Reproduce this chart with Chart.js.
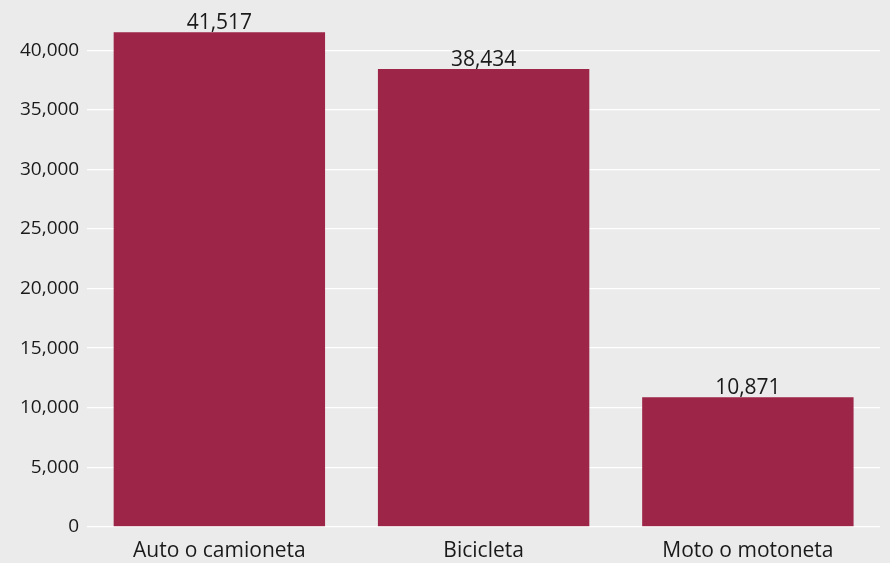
<!DOCTYPE html>
<html lang="es">
<head>
  <meta charset="UTF-8">
  <title>Vehículos</title>
  <script src="https://cdn.jsdelivr.net/npm/chart.js"></script>
  <style>
    body {
      margin: 0;
      padding: 0;
      background-color: #ebebeb;
      font-family: "Open Sans", sans-serif;
    }
    #wrap {
      width: 890px;
      height: 563px;
    }
  </style>
</head>
<body>
  <div id="wrap"><canvas id="grafico"></canvas></div>

  <script>
    const categorias = ['Auto o camioneta', 'Bicicleta', 'Moto o motoneta'];
    const valores = [41517, 38434, 10871];
    const marcasY = [0, 5000, 10000, 15000, 20000, 25000, 30000, 35000, 40000];
    const yMax = 42600;

    const fmt = n => n.toLocaleString('en-US');

    // etiquetas de valor encima de cada barra
    const etiquetas = {
      id: 'etiquetas',
      afterDatasetsDraw(chart) {
        const ctx = chart.ctx;
        const meta = chart.getDatasetMeta(0);
        ctx.save();
        ctx.font = '21px "Open Sans"';
        ctx.fillStyle = '#1a1a1a';
        ctx.textAlign = 'center';
        ctx.textBaseline = 'bottom';
        meta.data.forEach((bar, i) => {
          ctx.fillText(fmt(valores[i]), bar.x, bar.y + 1);
        });
        ctx.restore();
      }
    };

    new Chart(document.getElementById('grafico'), {
      type: 'bar',
      data: {
        labels: categorias,
        datasets: [{
          data: valores,
          backgroundColor: '#9c2548',
          borderWidth: 0,
          categoryPercentage: 1,
          barPercentage: 0.8
        }]
      },
      options: {
        responsive: true,
        maintainAspectRatio: false,
        animation: false,
        layout: { padding: { top: -4, right: 10, left: 12, bottom: -13 } },
        plugins: {
          legend: { display: false },
          tooltip: { enabled: false }
        },
        scales: {
          x: {
            grid: { display: false, drawTicks: false },
            border: { display: false },
            ticks: {
              color: '#1a1a1a',
              font: { family: 'Open Sans', size: 21 },
              padding: 12
            }
          },
          y: {
            min: 0,
            max: yMax,
            grid: { color: '#ffffff', lineWidth: 1.3, drawTicks: false },
            border: { display: false },
            afterBuildTicks(axis) {
              axis.ticks = marcasY.map(v => ({ value: v }));
            },
            ticks: {
              color: '#1a1a1a',
              font: { family: 'Open Sans', size: 19 },
              padding: 8,
              callback: v => fmt(v)
            }
          }
        }
      },
      plugins: [etiquetas]
    });
  </script>
</body>
</html>
